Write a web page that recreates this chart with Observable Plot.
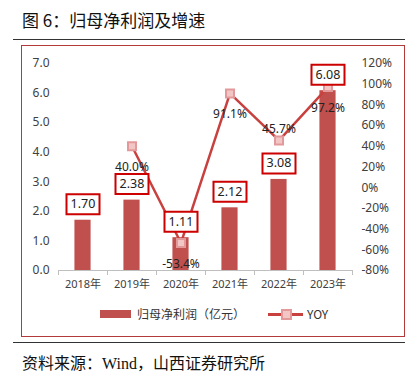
<!DOCTYPE html>
<html><head><meta charset="utf-8">
<script src="https://cdn.jsdelivr.net/npm/d3@7"></script>
<script src="https://cdn.jsdelivr.net/npm/@observablehq/plot@0.6"></script>
<style>
body{margin:0;background:#fff;}
#page{position:relative;width:417px;height:375px;overflow:hidden;font-family:"Noto Sans CJK SC","Noto Sans",sans-serif;background:#fff;}
#title{position:absolute;left:22px;top:8px;font-size:17px;line-height:24px;color:#111;white-space:nowrap;}
.rule{position:absolute;left:13px;width:392px;height:0;border-top:1px solid #333;}
#box{position:absolute;left:21px;top:45px;width:382px;height:290px;border:1px solid #b23a3a;z-index:2;pointer-events:none;}
#chart{position:absolute;left:0;top:45px;}
#legend{position:absolute;left:0;top:304px;width:417px;height:20px;font-size:12px;color:#333;}
#legend span{position:absolute;white-space:nowrap;}
#caption{position:absolute;left:22px;top:351px;font-size:16px;line-height:22px;color:#111;white-space:nowrap;}
</style></head><body><div id="page">
<div id="title">图 6：归母净利润及增速</div>
<div class="rule" style="top:39px"></div>
<div id="chart"></div>
<div id="box"></div>
<div id="legend">
  <span style="left:100px;top:6px;width:31px;height:8px;background:#c0504d"></span>
  <span style="left:137px;top:1px;line-height:18px">归母净利润（亿元）</span>
  <span style="left:268px;top:9px;width:35px;height:2.5px;background:#c8413f"></span>
  <span style="left:281px;top:5px;width:7px;height:7px;background:#f3c6c6;border:2px solid #e3999a"></span>
  <span style="left:307px;top:1px;line-height:18px">YOY</span>
</div>
<div class="rule" style="top:342px"></div>
<div id="caption">资料来源：<span style="font-family:'Liberation Serif',serif">Wind</span>，山西证券研究所</div>
</div>
<script>
const years = ["2018年","2019年","2020年","2021年","2022年","2023年"];
const profit = [1.70, 2.38, 1.11, 2.12, 3.08, 6.08];
const yoyYears = ["2019年","2020年","2021年","2022年","2023年"];
const yoy = [40.0, -53.4, 91.1, 45.7, 97.2];
const leftTicks = [0,1,2,3,4,5,6,7];
const rightTicks = [-80,-60,-40,-20,0,20,40,60,80,100,120];
const yMax = 7, yoyMin = -80, yoyMax = 120;

const toLeft = v => (v - yoyMin) / (yoyMax - yoyMin) * yMax;
const toYoy = y => y / yMax * (yoyMax - yoyMin) + yoyMin;

const bars = years.map((y, i) => ({i, year: y, value: profit[i]}));
const line = yoyYears.map((y, k) => ({i: years.indexOf(y), year: y, yoy: yoy[k], yv: toLeft(yoy[k])}));

const rectSymbol = (w, h) => ({draw(ctx) { ctx.rect(-w/2, -h/2, w, h); }});
const font = "'Noto Sans','Noto Sans CJK SC',sans-serif";

const chart = Plot.plot({
  width: 417, height: 255,
  marginLeft: 58, marginRight: 65, marginTop: 18, marginBottom: 30,
  style: {background: "transparent", fontFamily: font, overflow: "visible"},
  x: {type: "linear", domain: [-0.5, years.length - 0.5]},
  y: {domain: [0, yMax]},
  marks: [
    Plot.axisY(leftTicks, {anchor: "left", tickSize: 0, tickPadding: 9, fontSize: 12, fill: "#404040", tickFormat: d => d.toFixed(1), label: null}),
    Plot.axisY(rightTicks.map(toLeft), {anchor: "right", tickSize: 0, tickPadding: 9, fontSize: 12, fill: "#404040", tickFormat: d => Math.round(toYoy(d)) + "%", label: null}),
    Plot.rectY(bars, {x1: d => d.i - 0.165, x2: d => d.i + 0.165, y: "value", fill: "#c0504d"}),
    Plot.ruleY([0], {stroke: "#bfbfbf", strokeWidth: 1}),
    Plot.axisX(d3.range(years.length + 1).map(k => k - 0.5), {anchor: "bottom", tickSize: 5, stroke: "#bfbfbf", tickFormat: () => "", label: null}),
    Plot.axisX(years.map((_, i) => i), {anchor: "bottom", tickSize: 0, tickPadding: 10, fontSize: 11, fill: "#404040", tickFormat: i => years[i], label: null}),
    Plot.line(line, {x: "i", y: "yv", stroke: "#c8413f", strokeWidth: 2.5}),
    Plot.dot(line, {x: "i", y: "yv", symbol: rectSymbol(8, 8), fill: "#f3c6c6", stroke: "#e3999a", strokeWidth: 2}),
    Plot.text(line.filter(d => d.year !== "2022年"), {x: "i", y: "yv", text: d => d.yoy.toFixed(1) + "%", dy: 21, fontSize: 12, fill: "#222"}),
    Plot.text(line.filter(d => d.year === "2022年"), {x: "i", y: "yv", text: d => d.yoy.toFixed(1) + "%", dy: -11, fontSize: 12, fill: "#222"}),
    Plot.dot(bars, {x: "i", y: "value", dy: -16, symbol: rectSymbol(33, 20), fill: "white", stroke: "#cc0000", strokeWidth: 2}),
    Plot.text(bars, {x: "i", y: "value", dy: -16, text: d => d.value.toFixed(2), fontSize: 12.5, fill: "#222"})
  ]
});
document.getElementById("chart").appendChild(chart);
</script>
</body></html>
